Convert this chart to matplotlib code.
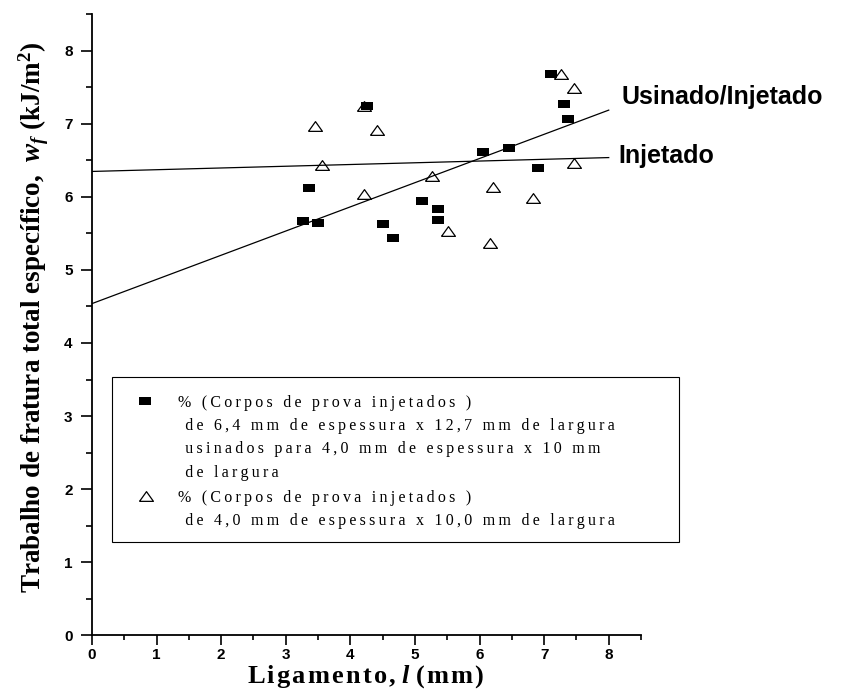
import matplotlib

matplotlib.use("Agg")

import matplotlib.pyplot as plt
from matplotlib.patches import Rectangle
from matplotlib.ticker import MultipleLocator

plt.rcParams["mathtext.fontset"] = "custom"
plt.rcParams["mathtext.rm"] = "Liberation Serif:bold"
plt.rcParams["mathtext.bf"] = "Liberation Serif:bold"
plt.rcParams["mathtext.it"] = "Liberation Serif:italic:bold"

# usinado/injetado specimens (filled squares)
usin_x = [3.26, 3.50, 3.36, 4.25, 4.51, 4.66, 5.11, 5.36, 5.36, 6.06, 6.46, 6.91, 7.11, 7.31, 7.37]
usin_y = [5.67, 5.64, 6.12, 7.24, 5.63, 5.44, 5.95, 5.83, 5.68, 6.61, 6.67, 6.40, 7.68, 7.28, 7.07]

# injetado specimens (open triangles)
inj_x = [3.46, 3.56, 4.21, 4.41, 4.21, 5.26, 5.51, 6.21, 6.16, 6.82, 7.26, 7.46, 7.46]
inj_y = [6.97, 6.44, 7.24, 6.92, 6.04, 6.29, 5.54, 6.14, 5.37, 5.98, 7.69, 7.49, 6.46]

# linear fits, evaluated at the ends of the drawn segment
fit_x = [0.0, 8.0]
usin_fit = [4.54, 7.19]
inj_fit = [6.35, 6.54]

legend_lines = [
    "% (Corpos de prova injetados )",
    " de 6,4 mm de espessura x 12,7 mm de largura",
    " usinados para 4,0 mm de espessura x 10 mm",
    " de largura",
    "% (Corpos de prova injetados )",
    " de 4,0 mm de espessura x 10,0 mm de largura",
]

# slightly flattened marker shapes
square = [(-1, -0.8), (1, -0.8), (1, 0.8), (-1, 0.8), (-1, -0.8)]
triangle = [(-1, -0.7), (1, -0.7), (0, 0.7), (-1, -0.7)]

THIN = "\u2009"
HAIR = "\u200a"


def tracked(s, gap=THIN):
    # open up the letter spacing
    return gap.join(s)


fig = plt.figure(figsize=(8.45, 6.9), dpi=100, facecolor="white")
ax = fig.add_axes([0.1089, 0.0797, 0.6497, 0.8993])

ax.plot(fit_x, usin_fit, color="black", linewidth=0.9, zorder=2)
ax.plot(fit_x, inj_fit, color="black", linewidth=0.9, zorder=2)

ax.plot(usin_x, usin_y, linestyle="none", marker=square, markersize=8,
        markerfacecolor="black", markeredgewidth=0, zorder=3)
ax.plot(inj_x, inj_y, linestyle="none", marker=triangle, markersize=10,
        markerfacecolor="none", markeredgecolor="black", markeredgewidth=0.9, zorder=4)

ax.text(8.20, 7.28, "Usinado/Injetado", fontsize=18, fontweight="bold",
        family="Liberation Sans", ha="left", va="baseline", clip_on=False)
ax.text(8.15, 6.47, "Injetado", fontsize=18, fontweight="bold",
        family="Liberation Sans", ha="left", va="baseline", clip_on=False)

ax.set_xlim(0, 8.5)
ax.set_ylim(0, 8.5)
ax.xaxis.set_major_locator(MultipleLocator(1))
ax.xaxis.set_minor_locator(MultipleLocator(0.5))
ax.yaxis.set_major_locator(MultipleLocator(1))
ax.yaxis.set_minor_locator(MultipleLocator(0.5))

ax.spines["top"].set_visible(False)
ax.spines["right"].set_visible(False)
for side in ("left", "bottom"):
    ax.spines[side].set_linewidth(1.3)

ax.tick_params(axis="both", which="both", direction="out", width=1.2)
ax.tick_params(axis="x", which="major", length=7, pad=2)
ax.tick_params(axis="x", which="minor", length=3.5)
ax.tick_params(axis="y", which="major", length=8, pad=6)
ax.tick_params(axis="y", which="minor", length=4)
for lab in ax.get_xticklabels() + ax.get_yticklabels():
    lab.set_fontfamily("Liberation Sans")
    lab.set_fontweight("bold")
    lab.set_fontsize(11)

xlabel = tracked("Ligamento,", HAIR) + " $l$ " + tracked("(mm)", HAIR)
ax.set_xlabel(xlabel, fontsize=19, fontweight="bold", family="Liberation Serif")
ax.xaxis.set_label_coords(0.499, -0.046)
ax.set_ylabel("Trabalho de fratura total específico,  $w_f$ (kJ/m$^2$)",
              fontsize=19.5, fontweight="bold", family="Liberation Serif")
ax.yaxis.set_label_coords(-0.075, 0.512)

# hand-drawn legend box
ax.add_patch(Rectangle((0.0364, 0.1499), 1.0326, 0.2659, transform=ax.transAxes,
                       facecolor="white", edgecolor="black", linewidth=0.8,
                       clip_on=False, zorder=5))
ax.plot([0.0965], [0.377], transform=ax.transAxes, linestyle="none", marker=square,
        markersize=8, markerfacecolor="black", markeredgewidth=0, clip_on=False, zorder=6)
ax.plot([0.0983], [0.224], transform=ax.transAxes, linestyle="none", marker=triangle,
        markersize=10, markerfacecolor="none", markeredgecolor="black",
        markeredgewidth=0.9, clip_on=False, zorder=6)
baselines = [407, 430, 453, 477, 502, 525]
for line, base in zip(legend_lines, baselines):
    ax.text(0.1566, (635 - base) / 620.5, tracked(line), transform=ax.transAxes,
            fontsize=11.5, family="Liberation Serif", ha="left", va="baseline",
            zorder=7)

fig.savefig("out.png", dpi=100, facecolor="white")
plt.close(fig)
